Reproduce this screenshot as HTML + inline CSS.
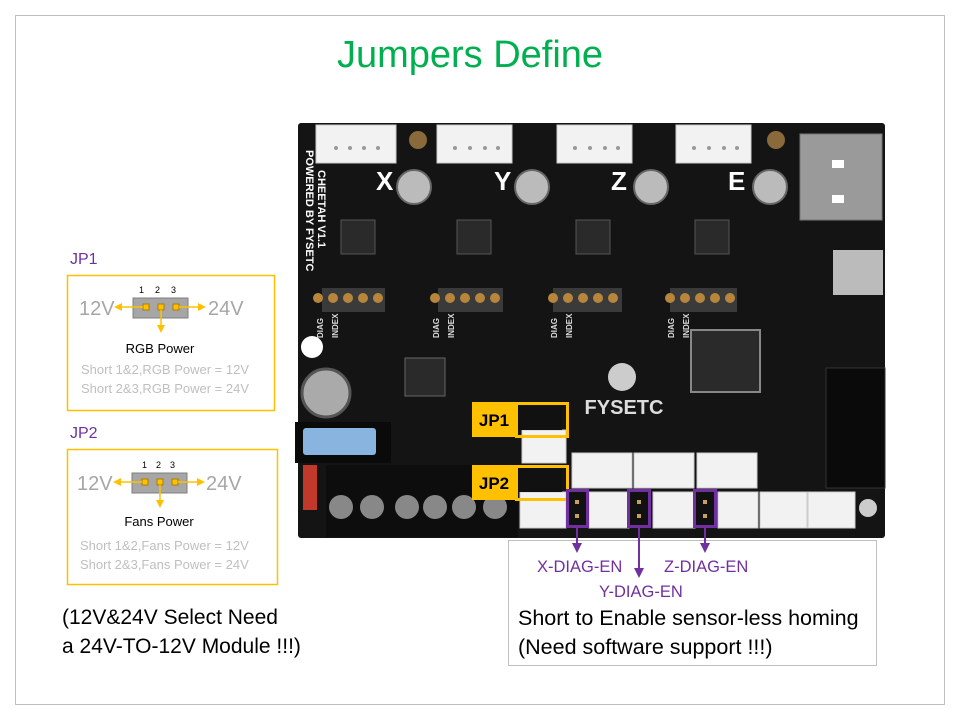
<!DOCTYPE html>
<html><head><meta charset="utf-8"><style>
html,body{margin:0;padding:0;background:#fff;width:960px;height:720px;overflow:hidden}
svg{display:block;font-family:"Liberation Sans",sans-serif}
</style></head><body>
<svg width="960" height="720" viewBox="0 0 960 720" xmlns="http://www.w3.org/2000/svg">
<defs>
<marker id="ao" markerWidth="8" markerHeight="8" refX="6" refY="4" orient="auto" markerUnits="userSpaceOnUse"><path d="M0,0 L8,4 L0,8 z" fill="#ffc000"/></marker>
<marker id="ap" markerWidth="10" markerHeight="10" refX="7" refY="5" orient="auto" markerUnits="userSpaceOnUse"><path d="M0,0 L10,5 L0,10 z" fill="#7030a0"/></marker>
</defs>
<rect x="15.5" y="15.5" width="929" height="689" fill="none" stroke="#bfbfbf"/>
<text x="470" y="67" text-anchor="middle" font-size="38" fill="#00b050">Jumpers Define</text>

<text x="70" y="264" font-size="16" fill="#7030a0">JP1</text>
<rect x="67.5" y="275.5" width="207" height="135" fill="none" stroke="#ffc000" stroke-width="1.5"/>
<text x="139" y="293" font-size="9" fill="#000">1</text><text x="155" y="293" font-size="9" fill="#000">2</text><text x="171" y="293" font-size="9" fill="#000">3</text>
<rect x="133" y="298" width="55" height="20" fill="#a6a6a6" stroke="#7f7f7f"/>
<rect x="143" y="304" width="6" height="6" fill="#ffc000" stroke="#b07a00"/><rect x="158" y="304" width="6" height="6" fill="#ffc000" stroke="#b07a00"/><rect x="173" y="304" width="6" height="6" fill="#ffc000" stroke="#b07a00"/>
<line x1="143" y1="307" x2="116" y2="307" stroke="#ffc000" stroke-width="1.5" marker-end="url(#ao)"/>
<line x1="179" y1="307" x2="204" y2="307" stroke="#ffc000" stroke-width="1.5" marker-end="url(#ao)"/>
<line x1="161" y1="310" x2="161" y2="331" stroke="#ffc000" stroke-width="1.5" marker-end="url(#ao)"/>
<text x="79" y="315" font-size="20" fill="#a6a6a6">12V</text><text x="208" y="315" font-size="20" fill="#a6a6a6">24V</text>
<text x="160" y="353" text-anchor="middle" font-size="13" fill="#000">RGB Power</text>
<text x="81" y="374" font-size="13" fill="#bfbfbf">Short  1&amp;2,RGB Power = 12V</text>
<text x="81" y="393" font-size="13" fill="#bfbfbf">Short  2&amp;3,RGB Power = 24V</text>

<text x="70" y="438" font-size="16" fill="#7030a0">JP2</text>
<rect x="67.5" y="449.5" width="210" height="135" fill="none" stroke="#ffc000" stroke-width="1.5"/>
<text x="142" y="468" font-size="9" fill="#000">1</text><text x="156" y="468" font-size="9" fill="#000">2</text><text x="170" y="468" font-size="9" fill="#000">3</text>
<rect x="132" y="473" width="55" height="20" fill="#a6a6a6" stroke="#7f7f7f"/>
<rect x="142" y="479" width="6" height="6" fill="#ffc000" stroke="#b07a00"/><rect x="157" y="479" width="6" height="6" fill="#ffc000" stroke="#b07a00"/><rect x="172" y="479" width="6" height="6" fill="#ffc000" stroke="#b07a00"/>
<line x1="142" y1="482" x2="115" y2="482" stroke="#ffc000" stroke-width="1.5" marker-end="url(#ao)"/>
<line x1="178" y1="482" x2="203" y2="482" stroke="#ffc000" stroke-width="1.5" marker-end="url(#ao)"/>
<line x1="160" y1="485" x2="160" y2="506" stroke="#ffc000" stroke-width="1.5" marker-end="url(#ao)"/>
<text x="77" y="490" font-size="20" fill="#a6a6a6">12V</text><text x="206" y="490" font-size="20" fill="#a6a6a6">24V</text>
<text x="159" y="526" text-anchor="middle" font-size="13" fill="#000">Fans Power</text>
<text x="80" y="550" font-size="13" fill="#bfbfbf">Short  1&amp;2,Fans Power = 12V</text>
<text x="80" y="569" font-size="13" fill="#bfbfbf">Short  2&amp;3,Fans Power = 24V</text>

<text x="62" y="624" font-size="21" fill="#000">(12V&amp;24V Select Need</text>
<text x="62" y="653" font-size="21" fill="#000">a 24V-TO-12V Module !!!)</text>

<rect x="298" y="123" width="587" height="415" rx="3" fill="#141414"/>
<g fill="#f2f2f2" stroke="#ccc">
<rect x="316" y="125" width="80" height="38"/><rect x="437" y="125" width="75" height="38"/>
<rect x="557" y="125" width="75" height="38"/><rect x="676" y="125" width="75" height="38"/>
</g>
<g fill="#999"><circle cx="336" cy="148" r="2"/><circle cx="350" cy="148" r="2"/><circle cx="364" cy="148" r="2"/><circle cx="378" cy="148" r="2"/>
<circle cx="455" cy="148" r="2"/><circle cx="470" cy="148" r="2"/><circle cx="485" cy="148" r="2"/><circle cx="498" cy="148" r="2"/>
<circle cx="575" cy="148" r="2"/><circle cx="590" cy="148" r="2"/><circle cx="605" cy="148" r="2"/><circle cx="618" cy="148" r="2"/>
<circle cx="694" cy="148" r="2"/><circle cx="709" cy="148" r="2"/><circle cx="724" cy="148" r="2"/><circle cx="737" cy="148" r="2"/></g>
<circle cx="418" cy="140" r="9" fill="#8a6a3a"/><circle cx="776" cy="140" r="9" fill="#8a6a3a"/>
<rect x="800" y="134" width="82" height="86" fill="#9a9a9a" stroke="#777"/>
<rect x="832" y="160" width="12" height="8" fill="#fff"/><rect x="832" y="195" width="12" height="8" fill="#fff"/>
<g fill="#fff" font-weight="bold" font-size="26">
<text x="376" y="190">X</text><text x="494" y="190">Y</text><text x="611" y="190">Z</text><text x="728" y="190">E</text></g>
<g fill="#bbb" stroke="#666" stroke-width="2">
<circle cx="414" cy="187" r="17"/><circle cx="532" cy="187" r="17"/><circle cx="651" cy="187" r="17"/><circle cx="770" cy="187" r="17"/></g>
<g fill="#2a2a2a" stroke="#555">
<rect x="341" y="220" width="34" height="34"/><rect x="457" y="220" width="34" height="34"/><rect x="576" y="220" width="34" height="34"/><rect x="695" y="220" width="34" height="34"/></g>
<g fill="#3a3a3a"><rect x="322" y="288" width="63" height="24"/><rect x="438" y="288" width="65" height="24"/><rect x="553" y="288" width="69" height="24"/><rect x="670" y="288" width="67" height="24"/></g>
<g fill="#b8863b">
<circle cx="318" cy="298" r="5"/><circle cx="333" cy="298" r="5"/><circle cx="348" cy="298" r="5"/><circle cx="363" cy="298" r="5"/><circle cx="378" cy="298" r="5"/>
<circle cx="435" cy="298" r="5"/><circle cx="450" cy="298" r="5"/><circle cx="465" cy="298" r="5"/><circle cx="480" cy="298" r="5"/><circle cx="495" cy="298" r="5"/>
<circle cx="553" cy="298" r="5"/><circle cx="568" cy="298" r="5"/><circle cx="583" cy="298" r="5"/><circle cx="598" cy="298" r="5"/><circle cx="613" cy="298" r="5"/>
<circle cx="670" cy="298" r="5"/><circle cx="685" cy="298" r="5"/><circle cx="700" cy="298" r="5"/><circle cx="715" cy="298" r="5"/><circle cx="730" cy="298" r="5"/></g>
<g fill="#ddd" font-size="8" font-weight="bold">
<text transform="translate(323,338) rotate(-90)">DIAG</text><text transform="translate(439,338) rotate(-90)">DIAG</text><text transform="translate(557,338) rotate(-90)">DIAG</text><text transform="translate(674,338) rotate(-90)">DIAG</text>
<text transform="translate(338,338) rotate(-90)">INDEX</text><text transform="translate(454,338) rotate(-90)">INDEX</text><text transform="translate(572,338) rotate(-90)">INDEX</text><text transform="translate(689,338) rotate(-90)">INDEX</text>
</g>
<text transform="translate(306,150) rotate(90)" fill="#fff" font-size="11" font-weight="bold">POWERED BY FYSETC</text>
<text transform="translate(318,170) rotate(90)" fill="#fff" font-size="11" font-weight="bold">CHEETAH V1.1</text>
<circle cx="312" cy="347" r="11" fill="#fff"/>
<circle cx="326" cy="393" r="24" fill="#aaa" stroke="#555" stroke-width="3"/>
<rect x="405" y="358" width="40" height="38" fill="#2a2a2a" stroke="#666"/>
<rect x="691" y="330" width="69" height="62" fill="#2a2a2a" stroke="#888" stroke-width="2"/>
<rect x="833" y="250" width="50" height="45" fill="#bbb"/>
<rect x="826" y="368" width="59" height="120" fill="#0a0a0a" stroke="#333"/>
<circle cx="622" cy="377" r="14" fill="#ccc"/>
<text x="624" y="414" text-anchor="middle" fill="#ddd" font-size="20" font-weight="bold">FYSETC</text>
<rect x="295" y="422" width="96" height="41" fill="#0a0a0a"/>
<rect x="303" y="428" width="73" height="27" rx="3" fill="#8ab4e0"/>
<rect x="303" y="465" width="14" height="45" fill="#c0392b"/>
<rect x="326" y="465" width="192" height="72" fill="#0d0d0d"/>
<g fill="#888"><circle cx="341" cy="507" r="12"/><circle cx="372" cy="507" r="12"/><circle cx="407" cy="507" r="12"/><circle cx="435" cy="507" r="12"/><circle cx="464" cy="507" r="12"/><circle cx="495" cy="507" r="12"/></g>
<g fill="#f2f2f2" stroke="#ccc">
<rect x="522" y="430" width="44" height="33"/>
<rect x="572" y="453" width="60" height="35"/><rect x="634" y="453" width="60" height="35"/><rect x="697" y="453" width="60" height="35"/>
<rect x="520" y="492" width="46" height="36"/><rect x="589" y="492" width="40" height="36"/><rect x="653" y="492" width="42" height="36"/>
<rect x="718" y="492" width="40" height="36"/><rect x="760" y="492" width="47" height="36"/><rect x="808" y="492" width="47" height="36"/>
</g>
<circle cx="868" cy="508" r="9" fill="#ccc"/>

<rect x="472" y="402" width="44" height="35" fill="#ffc000"/>
<text x="494" y="426" text-anchor="middle" font-size="17" font-weight="bold" fill="#000">JP1</text>
<rect x="516" y="406" width="46" height="24" fill="#111"/>
<rect x="516.5" y="403.5" width="51" height="33" fill="none" stroke="#ffc000" stroke-width="3"/>
<rect x="472" y="465" width="44" height="35" fill="#ffc000"/>
<text x="494" y="489" text-anchor="middle" font-size="17" font-weight="bold" fill="#000">JP2</text>
<rect x="516" y="468" width="46" height="24" fill="#111"/>
<rect x="516.5" y="466.5" width="51" height="33" fill="none" stroke="#ffc000" stroke-width="3"/>

<g fill="#111" stroke="#7030a0" stroke-width="3">
<rect x="567.5" y="490.5" width="20" height="36"/><rect x="628.5" y="490.5" width="21" height="36"/><rect x="694.5" y="490.5" width="21" height="36"/></g>
<g fill="#c8a060"><rect x="575" y="500" width="4" height="4"/><rect x="575" y="514" width="4" height="4"/><rect x="637" y="500" width="4" height="4"/><rect x="637" y="514" width="4" height="4"/><rect x="703" y="500" width="4" height="4"/><rect x="703" y="514" width="4" height="4"/></g>

<rect x="508.5" y="540.5" width="368" height="125" fill="#fff" stroke="#bfbfbf"/>
<line x1="577" y1="528" x2="577" y2="550" stroke="#7030a0" stroke-width="2" marker-end="url(#ap)"/>
<line x1="639" y1="528" x2="639" y2="575" stroke="#7030a0" stroke-width="2" marker-end="url(#ap)"/>
<line x1="705" y1="528" x2="705" y2="550" stroke="#7030a0" stroke-width="2" marker-end="url(#ap)"/>
<text x="537" y="572" font-size="16.5" fill="#7030a0">X-DIAG-EN</text>
<text x="599" y="597" font-size="16.5" fill="#7030a0">Y-DIAG-EN</text>
<text x="664" y="572" font-size="16.5" fill="#7030a0">Z-DIAG-EN</text>
<text x="518" y="625" font-size="21.5" fill="#000">Short to Enable sensor-less homing</text>
<text x="518" y="654" font-size="21.5" fill="#000">(Need software support !!!)</text>
</svg>
</body></html>
